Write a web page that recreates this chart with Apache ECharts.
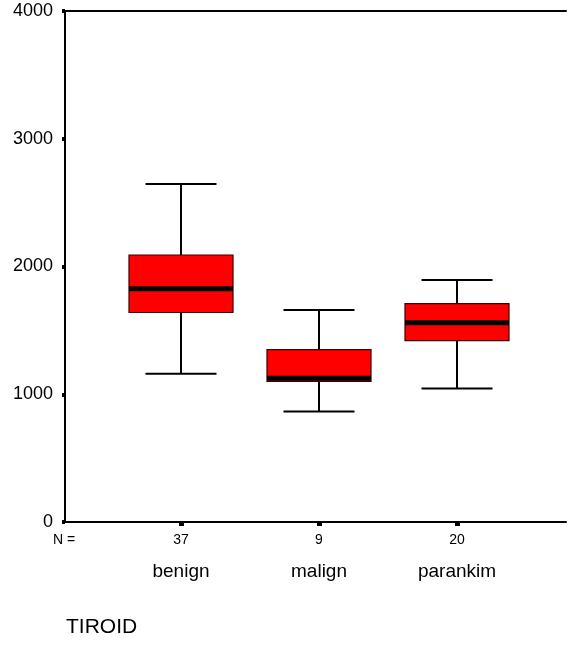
<!DOCTYPE html>
<html>
<head>
<meta charset="utf-8">
<script src="https://cdn.jsdelivr.net/npm/echarts@6/dist/echarts.min.js"></script>
<style>html,body{margin:0;padding:0;background:#fff;}#chart{width:568px;height:646px;}</style>
</head>
<body>
<div id="chart"></div>
<script>
const categories = ['benign', 'malign', 'parankim'];
const nCounts = [37, 9, 20];
const whiskerLow = [1160, 865, 1045];
const q1 = [1640, 1100, 1420];
const median = [1825, 1125, 1560];
const q3 = [2090, 1350, 1710];
const whiskerHigh = [2645, 1660, 1895];
const yTicks = [0, 1000, 2000, 3000, 4000];
const axisTitle = 'TIROID';

const FONT = '"Liberation Sans", Arial, sans-serif';
const catPos = categories.map((c, i) => i + 1);
const data = categories.map((c, i) => [i + 1, whiskerLow[i], q1[i], median[i], q3[i], whiskerHigh[i]]);

const chart = echarts.init(document.getElementById('chart'), null, {renderer: 'canvas'});
const X_MIN = 1 - 116 / 138;
const X_MAX = X_MIN + 501 / 138;

chart.setOption({
  animation: false,
  backgroundColor: '#fff',
  title: {
    text: axisTitle, left: 61, top: 612,
    textStyle: {fontFamily: FONT, fontSize: 21, fontWeight: 'normal', color: '#000'}
  },
  graphic: [{
    type: 'text', left: 53, top: 533,
    style: {text: 'N =', fontFamily: FONT, fontSize: 14, fill: '#000'}
  }],
  grid: {left: 65, right: 2, top: 11, bottom: 124, containLabel: false},
  xAxis: [
    {
      type: 'value', position: 'bottom', min: X_MIN, max: X_MAX,
      axisLine: {show: true, onZero: false, lineStyle: {color: '#000', width: 2}},
      axisTick: {show: true, customValues: catPos, length: 4, lineStyle: {color: '#000', width: 5}},
      axisLabel: {show: true, customValues: catPos, margin: 11, fontFamily: FONT, fontSize: 14, color: '#000',
        formatter: v => String(nCounts[Math.round(v) - 1])},
      splitLine: {show: false}
    },
    {
      type: 'value', position: 'bottom', min: X_MIN, max: X_MAX,
      axisLine: {show: false}, axisTick: {show: false},
      axisLabel: {show: true, customValues: catPos, margin: 40, fontFamily: FONT, fontSize: 19, color: '#000',
        formatter: v => categories[Math.round(v) - 1]},
      splitLine: {show: false}
    },
    {
      type: 'value', position: 'top', min: X_MIN, max: X_MAX,
      axisLine: {show: true, onZero: false, lineStyle: {color: '#000', width: 2}},
      axisTick: {show: false}, axisLabel: {show: false}, splitLine: {show: false}
    }
  ],
  yAxis: {
    type: 'value', min: yTicks[0], max: yTicks[yTicks.length - 1], interval: 1000,
    axisLine: {show: true, onZero: false, lineStyle: {color: '#000', width: 2}},
    axisTick: {show: true, length: 3, lineStyle: {color: '#000', width: 4}},
    axisLabel: {margin: 12, fontFamily: FONT, fontSize: 18, color: '#000', formatter: v => String(v)},
    splitLine: {show: false}
  },
  series: [{
    type: 'custom',
    xAxisIndex: 0,
    data: data,
    renderItem: function (params, api) {
      const x = api.value(0);
      const pLo = api.coord([x, api.value(1)]);
      const pQ1 = api.coord([x, api.value(2)]);
      const pMed = api.coord([x, api.value(3)]);
      const pQ3 = api.coord([x, api.value(4)]);
      const pHi = api.coord([x, api.value(5)]);
      const cx = pMed[0];
      const boxW = 104, capW = 71;
      const wl = {stroke: '#000', lineWidth: 2};
      return {
        type: 'group',
        children: [
          {type: 'line', shape: {x1: cx, y1: pLo[1], x2: cx, y2: pQ1[1]}, style: wl},
          {type: 'line', shape: {x1: cx, y1: pQ3[1], x2: cx, y2: pHi[1]}, style: wl},
          {type: 'line', shape: {x1: cx - capW / 2, y1: pLo[1], x2: cx + capW / 2, y2: pLo[1]}, style: wl},
          {type: 'line', shape: {x1: cx - capW / 2, y1: pHi[1], x2: cx + capW / 2, y2: pHi[1]}, style: wl},
          {type: 'rect', shape: {x: cx - boxW / 2, y: pQ3[1], width: boxW, height: pQ1[1] - pQ3[1]},
            style: {fill: '#ff0000', stroke: '#3a0000', lineWidth: 1.2}},
          {type: 'line', shape: {x1: cx - boxW / 2, y1: pMed[1], x2: cx + boxW / 2, y2: pMed[1]},
            style: {stroke: '#000', lineWidth: 5}}
        ]
      };
    }
  }]
});
</script>
</body>
</html>
